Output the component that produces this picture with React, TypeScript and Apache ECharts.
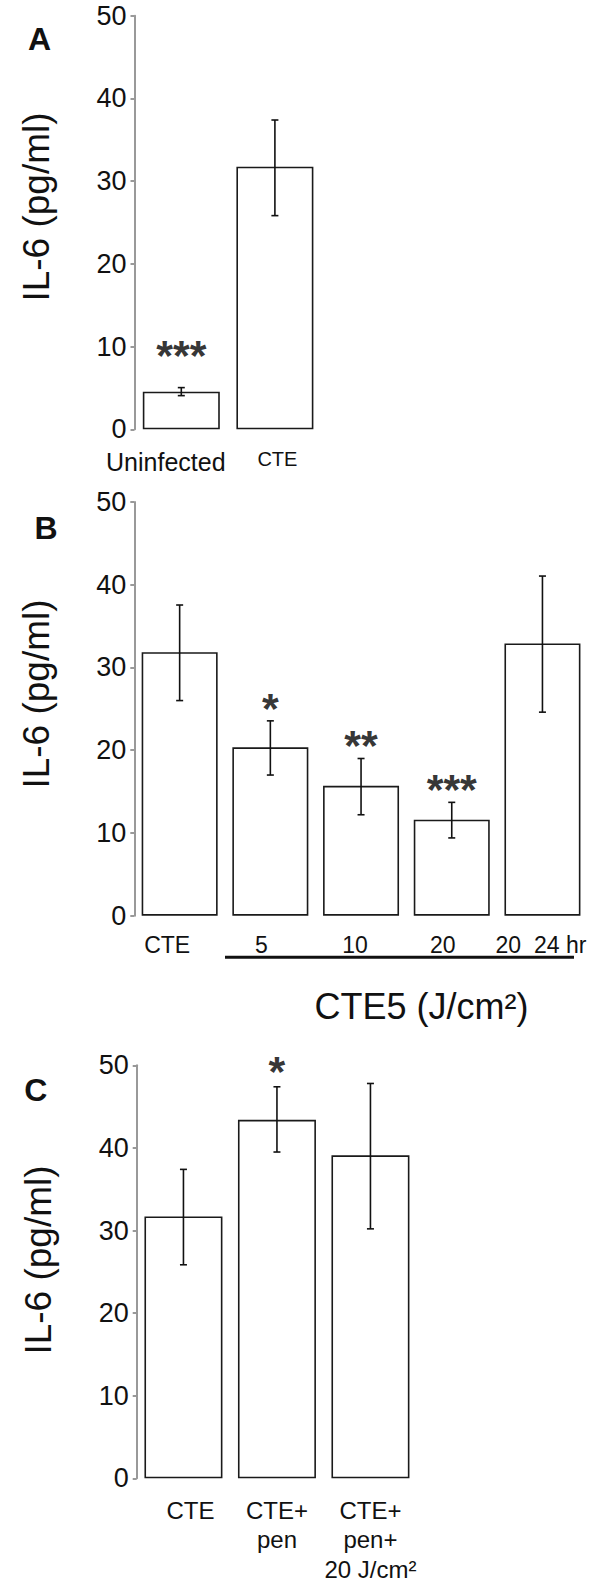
import React, { useEffect, useRef } from "react";
import * as echarts from "echarts";

const FONT = "'Liberation Sans', Arial, Helvetica, sans-serif";

// Panel A
const catsA = ["Uninfected", "CTE"];
const meanA = [4.55, 31.75];
const loA = [4.07, 25.83];
const hiA = [5.04, 37.39];
const starsA = ["***", ""];

// Panel B
const catsB = ["CTE", "5", "10", "20", "20\u00a0\u00a024 hr"];
const meanB = [31.85, 20.35, 15.7, 11.6, 32.9];
const loB = [26.0, 17.0, 12.2, 9.4, 24.6];
const hiB = [37.55, 23.55, 19.0, 13.7, 41.05];
const starsB = ["", "*", "**", "***", ""];

// Panel C
const catsC = ["CTE", "CTE+\npen", "CTE+\npen+\n20 J/cm²"];
const meanC = [31.7, 43.4, 39.1];
const loC = [25.85, 39.5, 30.2];
const hiC = [37.4, 47.4, 47.8];
const starsC = ["", "*", ""];

const yMin = 0;
const yMax = 50;
const yStep = 10;

const yAxisTitle = "IL-6 (pg/ml)";
const bAxisTitle = "CTE5 (J/cm²)";
const panelLetters = ["A", "B", "C"];

function errRender(params: any, api: any) {
  const x = api.value(0);
  const lo = api.value(1);
  const hi = api.value(2);
  const pLo = api.coord([x, lo]);
  const pHi = api.coord([x, hi]);
  const w = 3.5;
  const st = { stroke: "#111", lineWidth: 1.6 };
  return {
    type: "group",
    children: [
      { type: "line", shape: { x1: pLo[0], y1: pLo[1], x2: pHi[0], y2: pHi[1] }, style: st },
      { type: "line", shape: { x1: pHi[0] - w, y1: pHi[1], x2: pHi[0] + w, y2: pHi[1] }, style: st },
      { type: "line", shape: { x1: pLo[0] - w, y1: pLo[1], x2: pLo[0] + w, y2: pLo[1] }, style: st },
    ],
  };
}

function yAxisCfg(gridIndex: number) {
  return {
    type: "value",
    gridIndex,
    min: yMin,
    max: yMax,
    interval: yStep,
    splitLine: { show: false },
    axisLine: { show: true, lineStyle: { color: "#999", width: 2 } },
    axisTick: { show: true, length: 4, lineStyle: { color: "#999", width: 2 } },
    axisLabel: {
      fontSize: 27,
      fontFamily: FONT,
      color: "#111",
      margin: 8,
      padding: [9, 0, 0, 0],
    },
  };
}

function panelSeries(
  idx: number,
  mean: number[],
  lo: number[],
  hi: number[],
  stars: string[],
  barWidth: number,
  starOff: number
) {
  return [
    {
      type: "bar",
      xAxisIndex: idx,
      yAxisIndex: idx,
      data: mean,
      barWidth,
      silent: true,
      itemStyle: { color: "#fff", borderColor: "#1a1a1a", borderWidth: 1.6 },
    },
    {
      type: "custom",
      xAxisIndex: idx,
      yAxisIndex: idx,
      data: lo.map((l, i) => [i, l, hi[i]]),
      encode: { x: 0, y: [1, 2] },
      renderItem: errRender,
      z: 5,
      silent: true,
    },
    {
      type: "scatter",
      xAxisIndex: idx,
      yAxisIndex: idx,
      symbolSize: 1,
      itemStyle: { color: "rgba(0,0,0,0)" },
      silent: true,
      data: stars
        .map((s, i) => (s ? [i, hi[i], s] : null))
        .filter((d) => d !== null),
      label: {
        show: true,
        position: "inside",
        offset: [0, starOff],
        formatter: (p: any) => p.data[2],
        fontSize: 43,
        fontWeight: "bold",
        fontFamily: FONT,
        color: "#000",
      },
    },
  ];
}

function textEl(text: string, x: number, y: number, fontSize: number, fontWeight: string, rotation = 0) {
  return {
    type: "text",
    x,
    y,
    rotation,
    silent: true,
    style: {
      text,
      font: `${fontWeight} ${fontSize}px ${FONT}`,
      fill: "#111",
      textAlign: "center",
      textVerticalAlign: "middle",
    },
  };
}

export default function App() {
  const ref = useRef<HTMLDivElement>(null);

  useEffect(() => {
    document.body.style.margin = "0";
    if (!ref.current) return;
    const chart = echarts.init(ref.current, null, { renderer: "svg" });

    const richA: any = {
      l0: { fontSize: 25, fontFamily: FONT, color: "#111", padding: [0, 31, 0, 0] },
      l1: { fontSize: 20, fontFamily: FONT, color: "#111", padding: [0, 0, 0, 5] },
    };
    const padB = [25, 18, 12, 18, 3];
    const richB: any = {};
    padB.forEach((p, i) => {
      richB["l" + i] = { fontSize: 23, fontFamily: FONT, color: "#111", padding: [0, p, 0, 0] };
    });
    const richC: any = {
      l0: { fontSize: 24, fontFamily: FONT, color: "#111", lineHeight: 29.5, padding: [0, 0, 0, 14] },
      l1: { fontSize: 24, fontFamily: FONT, color: "#111", lineHeight: 29.5 },
      l2: { fontSize: 24, fontFamily: FONT, color: "#111", lineHeight: 29.5 },
    };
    const fmt = (v: string, i: number) =>
      v
        .split("\n")
        .map((line) => `{l${i}|${line}}`)
        .join("\n");

    const xAxisCfg = (gridIndex: number, data: string[], rich: any, margin: number) => ({
      type: "category",
      gridIndex,
      data,
      axisLine: { show: false },
      axisTick: { show: false },
      axisLabel: { interval: 0, margin, formatter: fmt, rich },
    });

    const option: any = {
      animation: false,
      backgroundColor: "#fff",
      textStyle: { fontFamily: FONT },
      grid: [
        { left: 134.5, top: 15.7, width: 187.2, height: 413.6 },
        { left: 134.3, top: 502, width: 453.5, height: 413.7 },
        { left: 136.7, top: 1065.3, width: 280.5, height: 413 },
      ],
      xAxis: [
        xAxisCfg(0, catsA, richA, 20),
        xAxisCfg(1, catsB, richB, 18),
        xAxisCfg(2, catsC, richC, 17),
      ],
      yAxis: [yAxisCfg(0), yAxisCfg(1), yAxisCfg(2)],
      series: [
        ...panelSeries(0, meanA, loA, hiA, starsA, 77, -33),
        ...panelSeries(1, meanB, loB, hiB, starsB, 76, -13),
        ...panelSeries(2, meanC, loC, hiC, starsC, 78, -16),
      ],
      graphic: [
        textEl(panelLetters[0], 39.5, 39, 32, "bold"),
        textEl(panelLetters[1], 46, 527.5, 32, "bold"),
        textEl(panelLetters[2], 35.7, 1089.5, 32, "bold"),
        textEl(yAxisTitle, 36, 207, 37, "normal", Math.PI / 2),
        textEl(yAxisTitle, 36, 694, 37, "normal", Math.PI / 2),
        textEl(yAxisTitle, 38, 1260, 37, "normal", Math.PI / 2),
        {
          type: "line",
          silent: true,
          shape: { x1: 225, y1: 957.3, x2: 574, y2: 957.3 },
          style: { stroke: "#111", lineWidth: 3 },
        },
        textEl(bAxisTitle, 421.5, 1006, 36, "normal"),
      ],
    };
    chart.setOption(option);
    return () => chart.dispose();
  }, []);

  return <div ref={ref} style={{ width: 600, height: 1590 }} />;
}
